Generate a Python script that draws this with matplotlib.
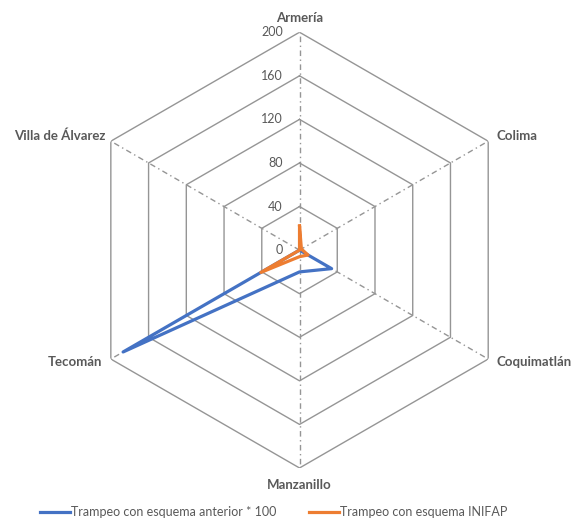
import numpy as np
import matplotlib.pyplot as plt

plt.rcParams['font.family'] = ['Lato', 'DejaVu Sans']

municipios = ['Armería', 'Colima', 'Coquimatlán', 'Manzanillo', 'Tecomán', 'Villa de Álvarez']
anterior_x100 = [0, 0, 34, 20, 187, 0]
inifap = [22, 2, 9, 6, 41, 0]
ticks = [0, 40, 80, 120, 160, 200]

grid_col = '#959595'
txt_col = '#595959'

n = len(municipios)
theta = np.linspace(0, 2 * np.pi, n, endpoint=False)
theta_c = np.append(theta, theta[0])

fig = plt.figure(figsize=(5.76, 5.25), dpi=100)
ax = fig.add_axes([0.1415, 0.1086, 0.757, 0.830], projection='polar')
ax.set_theta_offset(np.pi / 2)
ax.set_theta_direction(-1)
ax.set_ylim(0, 200)
ax.grid(False)
ax.spines['polar'].set_visible(False)
ax.set_xticks([])
ax.set_yticks([])
ax.patch.set_alpha(0)

# hexagonal rings
for r in ticks[1:]:
    ax.plot(theta_c, [r] * (n + 1), color=grid_col, lw=1.0, zorder=1)

# spokes
for t in theta:
    ax.plot([t, t], [0, 200], color=grid_col, lw=1.0, ls=(0, (4, 2.5, 1, 2.5)), zorder=1)

# value labels along the top spoke
for r in ticks:
    ax.annotate(str(r), xy=(0, r), xytext=(-12, 0), textcoords='offset points',
                ha='right', va='center', fontsize=9, color=txt_col)

# category labels
offsets = [(0, 6, 'center', 'bottom'), (6, 4, 'left', 'center'),
           (6, -2, 'left', 'center'), (0, -8, 'center', 'top'),
           (-6, -2, 'right', 'center'), (-4, 4, 'right', 'center')]
for t, name, (dx, dy, ha, va) in zip(theta, municipios, offsets):
    ax.annotate(name, xy=(t, 200), xytext=(dx, dy), textcoords='offset points',
                ha=ha, va=va, fontsize=9.5, fontweight='bold', color=txt_col)

l1, = ax.plot(theta_c, anterior_x100 + anterior_x100[:1], color='#4472c4', lw=2.3,
              solid_joinstyle='round', zorder=3, label='Trampeo con esquema anterior * 100')
l2, = ax.plot(theta_c, inifap + inifap[:1], color='#ed7d31', lw=2.3,
              solid_joinstyle='round', zorder=4, label='Trampeo con esquema INIFAP')

leg = fig.legend(handles=[l1, l2], loc='center', bbox_to_anchor=(0.475, 0.025), ncol=2,
                 frameon=False, fontsize=9, handlelength=2.4, handletextpad=0.1,
                 columnspacing=2.6)
for t in leg.get_texts():
    t.set_color(txt_col)

fig.savefig('out.png', dpi=100)
